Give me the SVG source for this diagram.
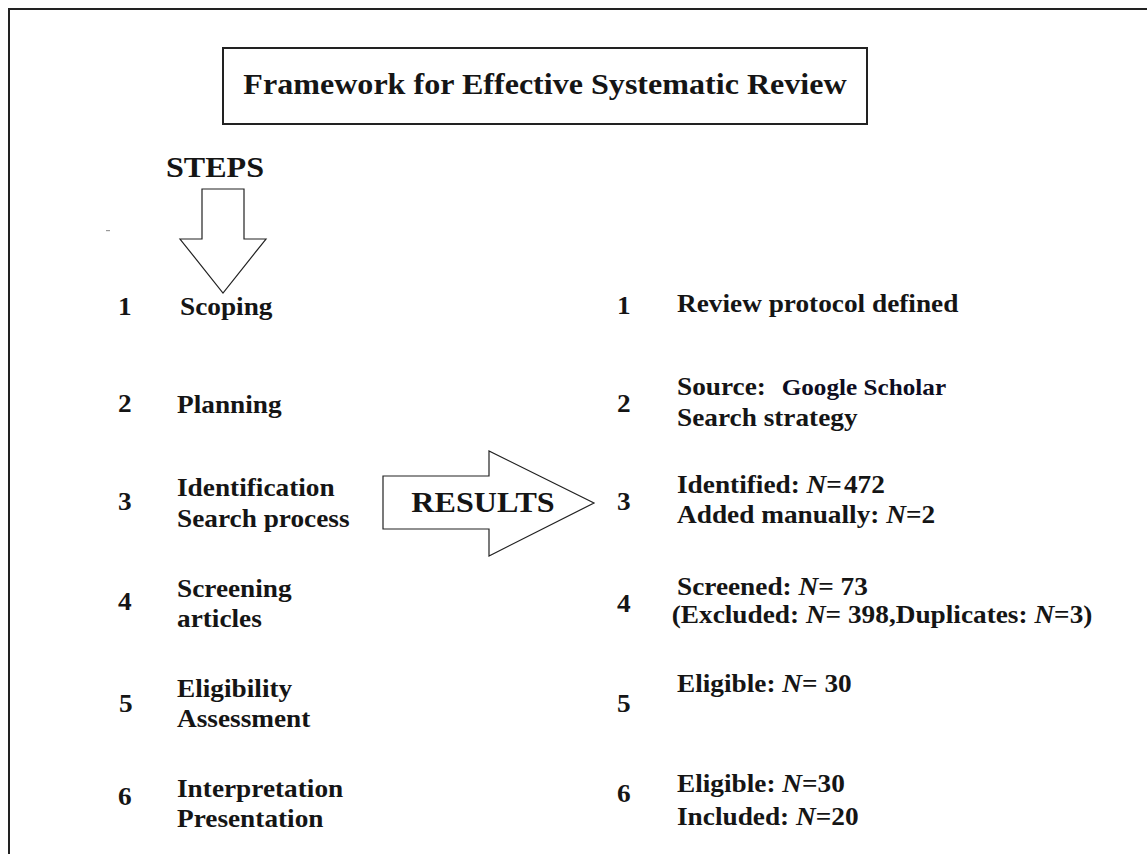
<svg xmlns="http://www.w3.org/2000/svg" width="1147" height="854" viewBox="0 0 1147 854">
<style>
.t{font-family:"Liberation Serif","Times New Roman",serif;font-weight:bold;fill:#151515;font-size:26px}
.big{font-size:30px}
.i{font-style:italic}
.gs{font-size:24px;fill:#0d0d22}
.frame{fill:none;stroke:#222;stroke-width:2}
.arrow{fill:#fff;stroke:#222;stroke-width:1.2;stroke-linejoin:miter}
</style>
<rect width="1147" height="854" fill="#fff"/>
<g id="frame">
<path class="frame" d="M9,854 L9,9 L1147,9"/>
<rect x="106" y="230" width="4" height="1.2" fill="#999"/>
</g>
<g id="title">
<rect class="frame" x="223" y="48" width="644" height="76"/>
<text class="t big" text-anchor="middle" transform="translate(545,94) scale(1.07 1)">Framework for Effective Systematic Review</text>
</g>
<g id="steps-label">
<text class="t big" text-anchor="middle" transform="translate(215,177) scale(1.07 1)">STEPS</text>
</g>
<g id="connectors">
<polygon id="steps-arrow" class="arrow" points="202,189 244,189 244,239 266,239 223,293 180,239 202,239"/>
<polygon id="results-arrow" class="arrow" points="383,476 489,476 489,451 594,503 489,556 489,529 383,529"/>
</g>
<g id="results-label">
<text class="t big" text-anchor="middle" transform="translate(483,512) scale(1.07 1)">RESULTS</text>
</g>
<g id="step-1">
<text class="t" transform="translate(118,315) scale(1.05 1)">1</text>
<text class="t" transform="translate(180,315) scale(1.05 1)">Scoping</text>
</g>
<g id="step-2">
<text class="t" transform="translate(118,412) scale(1.05 1)">2</text>
<text class="t" transform="translate(177,413) scale(1.05 1)">Planning</text>
</g>
<g id="step-3">
<text class="t" transform="translate(118,510) scale(1.05 1)">3</text>
<text class="t" transform="translate(177,496) scale(1.05 1)">Identification<tspan x="0" dy="31">Search process</tspan></text>
</g>
<g id="step-4">
<text class="t" transform="translate(118,610) scale(1.05 1)">4</text>
<text class="t" transform="translate(177,597) scale(1.05 1)">Screening<tspan x="0" dy="30">articles</tspan></text>
</g>
<g id="step-5">
<text class="t" transform="translate(119,712) scale(1.05 1)">5</text>
<text class="t" transform="translate(177,697) scale(1.05 1)">Eligibility<tspan x="0" dy="30">Assessment</tspan></text>
</g>
<g id="step-6">
<text class="t" transform="translate(118,805) scale(1.05 1)">6</text>
<text class="t" transform="translate(177,797) scale(1.05 1)">Interpretation<tspan x="0" dy="30">Presentation</tspan></text>
</g>
<g id="result-1">
<text class="t" transform="translate(617,314) scale(1.05 1)">1</text>
<text class="t" transform="translate(677,312) scale(1.05 1)">Review protocol defined</text>
</g>
<g id="result-2">
<text class="t" transform="translate(617,412) scale(1.05 1)">2</text>
<text class="t" transform="translate(677,395) scale(1.05 1)">Source:<tspan class="gs" dx="15">Google Scholar</tspan><tspan x="0" dy="31">Search strategy</tspan></text>
</g>
<g id="result-3">
<text class="t" transform="translate(617,510) scale(1.05 1)">3</text>
<text class="t" transform="translate(677,493) scale(1.05 1)">Identified: <tspan class="i">N</tspan>=<tspan dx="2">472</tspan><tspan x="0" dy="30">Added manually: </tspan><tspan class="i">N</tspan>=2</text>
</g>
<g id="result-4">
<text class="t" transform="translate(617,612) scale(1.05 1)">4</text>
<text class="t" transform="translate(677,595) scale(1.05 1)">Screened: <tspan class="i">N</tspan>= 73<tspan x="-5" dy="28">(Excluded: </tspan><tspan class="i">N</tspan>= 398,Duplicates: <tspan class="i">N</tspan>=3)</text>
</g>
<g id="result-5">
<text class="t" transform="translate(617,712) scale(1.05 1)">5</text>
<text class="t" transform="translate(677,692) scale(1.05 1)">Eligible: <tspan class="i">N</tspan>= 30</text>
</g>
<g id="result-6">
<text class="t" transform="translate(617,802) scale(1.05 1)">6</text>
<text class="t" transform="translate(677,792) scale(1.05 1)">Eligible: <tspan class="i">N</tspan>=30<tspan x="0" dy="33">Included: </tspan><tspan class="i">N</tspan>=20</text>
</g>
</svg>
